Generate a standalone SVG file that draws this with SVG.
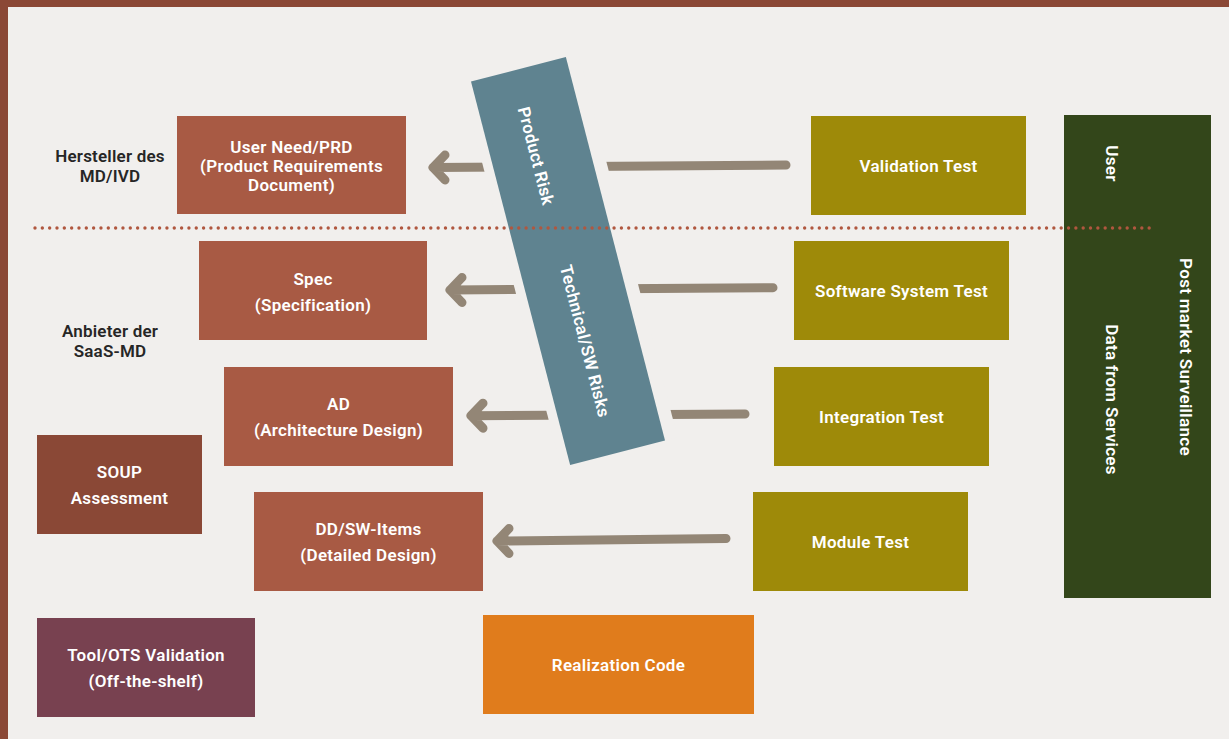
<svg xmlns="http://www.w3.org/2000/svg" width="1229" height="739" viewBox="0 0 1229 739">
<style>
.t{font-family:Roboto,"Liberation Sans",sans-serif;font-weight:600;font-size:17px;letter-spacing:0.3px;fill:#ffffff;text-anchor:middle}
.lbl{font-family:Roboto,"Liberation Sans",sans-serif;font-weight:600;font-size:17px;letter-spacing:0.2px;fill:#262626;text-anchor:middle}
.rust{fill:#A85A44}
.olive{fill:#9E8A09}
.arr{fill:none;stroke:#938676;stroke-width:9;stroke-linecap:round;stroke-linejoin:round}
</style>
<rect x="0" y="0" width="1229" height="739" fill="#F1EFED"/>
<rect x="0" y="0" width="1229" height="7" fill="#8B4836"/>
<rect x="0" y="0" width="8" height="739" fill="#8B4836"/>

<g id="labels">
<text class="lbl" x="110" y="162">Hersteller des</text>
<text class="lbl" x="110" y="182">MD/IVD</text>
<text class="lbl" x="110" y="337">Anbieter der</text>
<text class="lbl" x="110" y="357">SaaS-MD</text>
</g>

<g id="connectors">
<path class="arr" d="M786 165 L433 167.5 M445 155 L433 167.5 L445 180"/>
<path class="arr" d="M773 287.7 L450 290 M462 277.5 L450 290 L462 302.5"/>
<path class="arr" d="M745 414 L471 415.7 M483 403.2 L471 415.7 L483 428.2"/>
<path class="arr" d="M726 538.5 L497 541 M509 528.5 L497 541 L509 553.5"/>
</g>

<g id="risk-band">
<rect x="-58.5" y="-198" width="120.5" height="396" fill="#F1EFED" transform="translate(568,261) rotate(-14.5)"/>
<rect x="-49" y="-198" width="98" height="396" fill="#5F8390" transform="translate(568,261) rotate(-14.5)"/>
<text class="t" dy="0.35em" transform="translate(536,156) rotate(75.5)">Product Risk</text>
<text class="t" dy="0.35em" transform="translate(585,341) rotate(75.5)">Technical/SW Risks</text>
</g>

<g id="user-need">
<rect class="rust" x="177" y="116" width="229" height="98"/>
<text class="t" x="291.5" y="153">User Need/PRD</text>
<text class="t" x="291.5" y="172">(Product Requirements</text>
<text class="t" x="291.5" y="191">Document)</text>
</g>
<g id="spec">
<rect class="rust" x="199" y="241" width="228" height="99"/>
<text class="t" x="313" y="285">Spec</text>
<text class="t" x="313" y="311">(Specification)</text>
</g>
<g id="ad">
<rect class="rust" x="224" y="367" width="229" height="99"/>
<text class="t" x="338.5" y="410">AD</text>
<text class="t" x="338.5" y="436">(Architecture Design)</text>
</g>
<g id="dd">
<rect class="rust" x="254" y="492" width="229" height="99"/>
<text class="t" x="368.5" y="535">DD/SW-Items</text>
<text class="t" x="368.5" y="561">(Detailed Design)</text>
</g>
<g id="soup">
<rect x="37" y="435" width="165" height="99" fill="#8A4836"/>
<text class="t" x="119.5" y="478">SOUP</text>
<text class="t" x="119.5" y="504">Assessment</text>
</g>
<g id="tool-ots">
<rect x="37" y="618" width="218" height="99" fill="#784150"/>
<text class="t" x="146" y="661">Tool/OTS Validation</text>
<text class="t" x="146" y="687">(Off-the-shelf)</text>
</g>
<g id="realization">
<rect x="483" y="615" width="271" height="99" fill="#E07C1C"/>
<text class="t" x="618.5" y="671">Realization Code</text>
</g>
<g id="validation-test">
<rect class="olive" x="811" y="116" width="215" height="99"/>
<text class="t" x="918.5" y="172">Validation Test</text>
</g>
<g id="software-system-test">
<rect class="olive" x="794" y="241" width="215" height="99"/>
<text class="t" x="901.5" y="297">Software System Test</text>
</g>
<g id="integration-test">
<rect class="olive" x="774" y="367" width="215" height="99"/>
<text class="t" x="881.5" y="423">Integration Test</text>
</g>
<g id="module-test">
<rect class="olive" x="753" y="492" width="215" height="99"/>
<text class="t" x="860.5" y="548">Module Test</text>
</g>
<g id="post-market">
<rect x="1064" y="115" width="147" height="483" fill="#33461A"/>
<text class="t" dy="0.35em" transform="translate(1112,163.5) rotate(90)">User</text>
<text class="t" dy="0.35em" transform="translate(1186,357) rotate(90)">Post market Surveillance</text>
<text class="t" dy="0.35em" transform="translate(1112,399.5) rotate(90)">Data from Services</text>
</g>

<line id="divider" x1="35" y1="228" x2="1151" y2="228" stroke="#B0573F" stroke-width="3.4" stroke-linecap="round" stroke-dasharray="0 7.33"/>
</svg>
